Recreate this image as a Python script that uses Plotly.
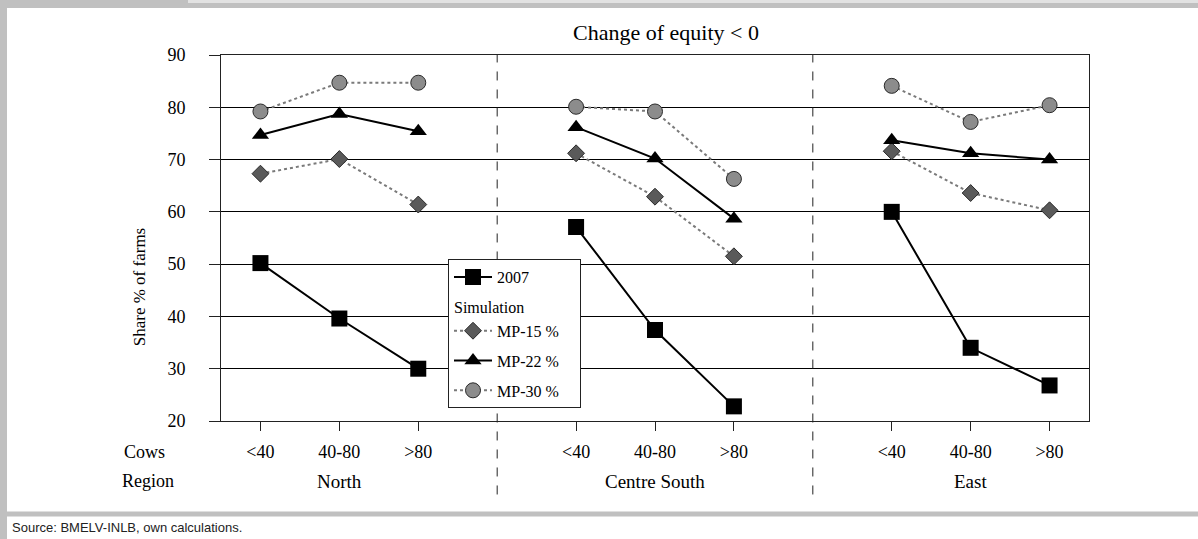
import plotly.graph_objects as go

# ---------------- data ----------------
cows = ["<40", "40-80", ">80"]
regions = ["North", "Centre South", "East"]
v2007 = [50.2, 39.6, 30.0, 57.1, 37.4, 22.8, 60.0, 34.0, 26.8]
mp15 = [67.3, 70.1, 61.4, 71.2, 62.9, 51.5, 71.6, 63.6, 60.3]
mp22 = [74.7, 78.7, 75.4, 76.2, 70.2, 58.7, 73.7, 71.2, 70.0]
mp30 = [79.2, 84.7, 84.7, 80.1, 79.2, 66.3, 84.1, 77.2, 80.4]
y_ticks = [20, 30, 40, 50, 60, 70, 80, 90]

W, H = 1198, 539
L, R, T, B = 221, 1089, 55, 420.6
SERIF = "Liberation Serif, Times New Roman, serif"
PAD = "\u2002\u2002"  # right padding inside the legend box


def px(x):
    return (x - L) / (R - L)


def py(y):
    return (B - y) / (B - T)


def positions():
    xs = []
    for i in range(len(regions)):
        for j in range(len(cows)):
            xs.append(4 * i + j)
    return xs


def gapped(vals):
    xs_all = positions()
    xs, ys = [], []
    n = len(cows)
    for i in range(len(regions)):
        xs += xs_all[i * n:(i + 1) * n] + [None]
        ys += vals[i * n:(i + 1) * n] + [None]
    return xs, ys


fig = go.Figure()

x, y = gapped(v2007)
fig.add_trace(go.Scatter(x=x, y=y, name="2007", mode="lines+markers",
                         line=dict(color="black", width=2),
                         marker=dict(symbol="square", size=16, color="black"),
                         legendgroup="a"))
x, y = gapped(mp15)
fig.add_trace(go.Scatter(x=x, y=y, name="MP-15 %" + PAD, mode="lines+markers",
                         line=dict(color="#7a7a7a", width=2, dash="dot"),
                         marker=dict(symbol="diamond", size=13, color="#5a5a5a",
                                     line=dict(color="#2a2a2a", width=1)),
                         legendgroup="b", legendgrouptitle=dict(text="Simulation",
                                                               font=dict(family=SERIF, size=16, color="black"))))
x, y = gapped(mp22)
fig.add_trace(go.Scatter(x=x, y=y, name="MP-22 %" + PAD, mode="lines+markers",
                         line=dict(color="black", width=2),
                         marker=dict(symbol="triangle-up", size=15, color="black"),
                         legendgroup="c"))
x, y = gapped(mp30)
fig.add_trace(go.Scatter(x=x, y=y, name="MP-30 %" + PAD, mode="lines+markers",
                         line=dict(color="#7a7a7a", width=2, dash="dot"),
                         marker=dict(symbol="circle", size=15, color="#8c8c8c",
                                     line=dict(color="#2a2a2a", width=1)),
                         legendgroup="d"))

shapes = []
# dashed region separators
for xs in [3, 7]:
    shapes.append(dict(type="line", xref="x", yref="paper", x0=xs, x1=xs,
                       y0=py(494), y1=1, line=dict(color="#222", width=1, dash="dash")))
# page frame
gray = "#c0c0c0"
shapes.append(dict(type="rect", xref="paper", yref="paper", x0=px(0), x1=px(W),
                   y0=py(8), y1=py(0), fillcolor=gray, line_width=0, layer="below"))
shapes.append(dict(type="rect", xref="paper", yref="paper", x0=px(188), x1=px(W),
                   y0=py(3), y1=py(0), fillcolor="#e2e2e2", line_width=0, layer="below"))
shapes.append(dict(type="rect", xref="paper", yref="paper", x0=px(0), x1=px(7),
                   y0=py(H), y1=py(0), fillcolor=gray, line_width=0, layer="below"))
shapes.append(dict(type="rect", xref="paper", yref="paper", x0=px(0), x1=px(W),
                   y0=py(516), y1=py(511), fillcolor=gray, line_width=0, layer="below"))


def ann(text, x, y, size=17, xref="paper", xanchor="center", angle=0, family=SERIF, color="black"):
    return dict(text=text, x=x, y=y, xref=xref, yref="paper", xanchor=xanchor, yanchor="middle",
                textangle=angle, showarrow=False, font=dict(family=family, size=size, color=color))


annotations = [
    ann("Change of equity &lt; 0", px(666), py(33), size=22),
    ann("Share % of farms", px(139), py(287), size=17, angle=-90),
    ann("Cows", px(144), py(452), size=18),
    ann("Region", px(148), py(481), size=18),
]
for i, r in enumerate(regions):
    annotations.append(ann(r, 4 * i + 1, py(481), xref="x", size=19))
annotations.append(ann("Source: BMELV-INLB, own calculations.", px(10), py(527), size=13,
                       xanchor="left", color="#222",
                       family="Liberation Sans Narrow, Arial Narrow, Liberation Sans, sans-serif"))

tick_x = positions()
tick_text = [cows[k % 3] for k in range(len(tick_x))]

fig.update_layout(
    width=W, height=H,
    margin=dict(l=L, r=W - R, t=T, b=H - B, pad=0),
    paper_bgcolor="white", plot_bgcolor="white",
    font=dict(family=SERIF, size=17, color="black"),
    showlegend=True,
    legend=dict(x=px(448), y=py(259), xanchor="left", yanchor="top",
                bgcolor="white", bordercolor="#222", borderwidth=1,
                font=dict(family=SERIF, size=16, color="black"),
                tracegroupgap=6, traceorder="grouped", itemwidth=38),
    xaxis=dict(range=[-0.5, 10.5], tickvals=tick_x, ticktext=tick_text,
               showgrid=False, zeroline=False, showline=True, mirror=True,
               linecolor="#222", linewidth=1, ticks="outside", ticklen=9,
               tickcolor="#222", ticklabelstandoff=5,
               tickfont=dict(family=SERIF, size=18, color="black")),
    yaxis=dict(range=[20, 90], tickvals=y_ticks, showgrid=True, gridcolor="black",
               gridwidth=1, zeroline=False, showline=True, mirror=True,
               linecolor="#222", linewidth=1, ticks="outside", ticklen=11,
               tickcolor="#222", ticklabelstandoff=20,
               tickfont=dict(family=SERIF, size=18, color="black")),
    shapes=shapes, annotations=annotations,
)

fig.write_html("out.html", config={"displayModeBar": False},
               post_script="document.body.style.margin='0';")
